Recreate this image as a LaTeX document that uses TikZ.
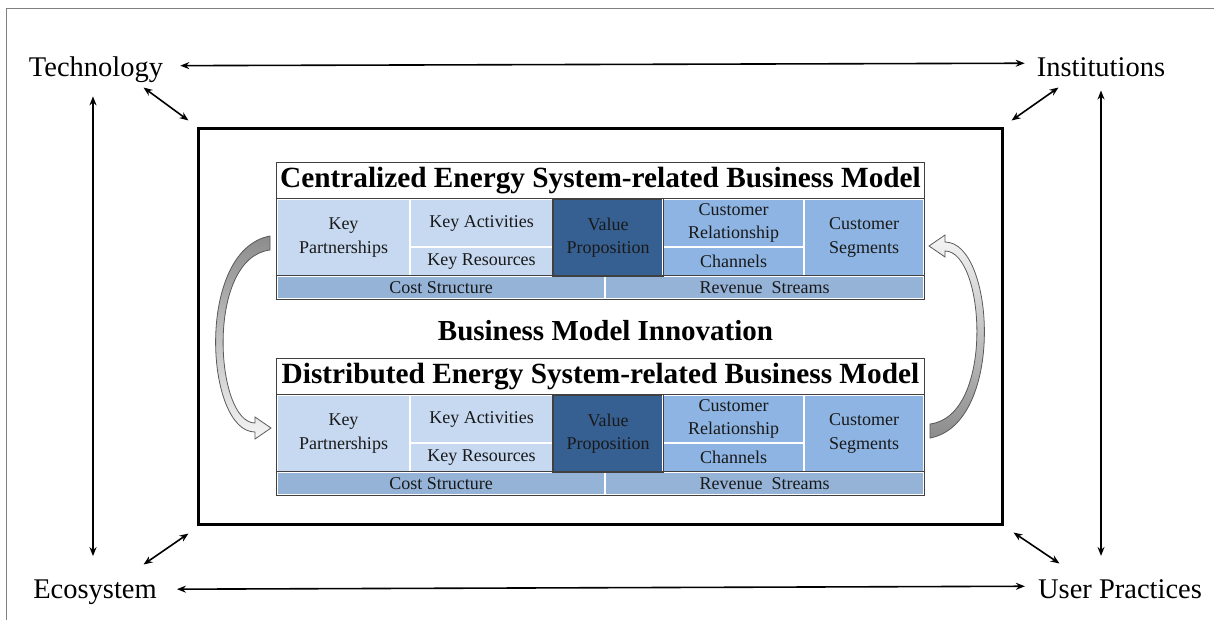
\documentclass[tikz,border=0pt]{standalone}
\usepackage{fontspec}
\setmainfont{Liberation Serif}
\usetikzlibrary{arrows.meta}
\definecolor{lightb}{HTML}{C6D9F1}
\definecolor{midb}{HTML}{8DB4E2}
\definecolor{darkb}{HTML}{376092}
\definecolor{costb}{HTML}{95B3D7}
\definecolor{edgec}{HTML}{404040}
\tikzset{
 lbl/.style={font=\fontsize{28.5}{30}\selectfont, inner sep=0pt, anchor=base},
 arr/.style={line width=1.6pt, {Stealth[length=9pt,width=7pt]}-{Stealth[length=9pt,width=7pt]}},
 cell/.style={draw=white, line width=1.2pt, inner sep=0pt, align=center, font=\fontsize{18}{23.5}\selectfont, text=black!90},
 ttl/.style={fill=white, inner sep=0pt, minimum width=647pt, minimum height=36pt, font=\fontsize{29.3}{30}\selectfont\bfseries},
 tedge/.style={draw=edgec, line width=1.3pt},
 frame/.style={draw=black, line width=3pt, minimum width=804pt, minimum height=396pt, inner sep=0pt},
 blockarrow/.style={draw=black!65, line width=0.8pt},
 bmi/.style={font=\fontsize{29}{30}\selectfont\bfseries, inner sep=0pt},
}
\newcommand\bmodel[3]{%
 \begin{scope}[yshift=-#2pt]
 \node[ttl] (#1-t) at (600.5,181) {#3};
 \node[cell, fill=lightb, minimum width=133pt, minimum height=77pt] (#1-kp) at (343.5,237.5) {Key\\Partnerships};
 \node[cell, fill=lightb, minimum width=143pt, minimum height=48pt] (#1-ka) at (481.5,223) {Key Activities};
 \node[cell, fill=lightb, minimum width=143pt, minimum height=29pt] (#1-kr) at (481.5,261.5) {Key Resources};
 \node[cell, fill=darkb, draw=edgec, minimum width=110pt, minimum height=77pt] (#1-vp) at (608,237.5) {Value\\Proposition};
 \node[cell, fill=midb, minimum width=141pt, minimum height=48pt] (#1-cr) at (733.5,223) {Customer\\Relationship};
 \node[cell, fill=midb, minimum width=141pt, minimum height=29pt] (#1-ch) at (733.5,261.5) {Channels};
 \node[cell, fill=midb, minimum width=120pt, minimum height=77pt] (#1-cs) at (864,237.5) {Customer\\Segments};
 \node[cell, fill=costb, minimum width=328pt, minimum height=23pt] (#1-cost) at (441,287.5) {Cost Structure};
 \node[cell, fill=costb, minimum width=319pt, minimum height=23pt] (#1-rev) at (764.5,287.5) {Revenue\ \ Streams};
 \draw[tedge] (#1-vp.north west) rectangle (#1-vp.south east);
 \draw[tedge] (#1-kp.north west) -- (#1-cs.north east);
 \draw[tedge] (#1-cost.north west) -- (#1-rev.north east);
 \draw[tedge] (#1-t.north west) rectangle (#1-rev.south east);
 \end{scope}}
\begin{document}
\begin{tikzpicture}[x=1pt,y=-1pt]
\useasboundingbox (0,0) rectangle (1214,619);
\draw[black!50, line width=1pt] (6,625) -- (6,8) -- (1220,8);

% factors
\node[lbl] (tech) at (96,76) {Technology};
\node[lbl] (inst) at (1101,76) {Institutions};
\node[lbl] (eco) at (95,598) {Ecosystem};
\node[lbl] (user) at (1120,598) {User Practices};

% central frame
\node[frame] (box) at (600,326) {};

% arrows between factors
\draw[arr, shorten <=17pt, shorten >=12pt] ([yshift=3.5pt]tech.east) -- ([yshift=3.5pt]inst.west);
\draw[arr, shorten <=20pt, shorten >=13pt] ([yshift=2.5pt]eco.east) -- ([yshift=2.5pt]user.west);
\draw[arr, shorten <=14pt, shorten >=23pt] ([xshift=-3pt]tech.south) -- ([xshift=-2pt]eco.north);
\draw[arr, shorten <=14pt, shorten >=23pt] (inst.south) -- ([xshift=-19pt]user.north);

% diagonal arrows to the frame
\draw[arr] ([shift={(-53,-39)}]box.north west) -- ([shift={(-8,-6)}]box.north west);
\draw[arr] ([shift={(55,-39)}]box.north east) -- ([shift={(8,-6)}]box.north east);
\draw[arr] ([shift={(-8,8)}]box.south west) -- ([shift={(-53,39)}]box.south west);
\draw[arr] ([shift={(10,7)}]box.south east) -- ([shift={(56,38)}]box.south east);

% business models
\bmodel{cen}{0}{Centralized Energy System-related Business Model}
\bmodel{dis}{196}{Distributed Energy System-related Business Model}

\node[bmi] (inn) at (605.5,331) {Business Model Innovation};

% curved block arrows
\draw[blockarrow, top color=black!45, bottom color=black!4]
 (270,236) .. controls (195,250) and (205,432) .. (255,432)
 -- (255,439) -- (271,428) -- (255,417) -- (255,423)
 .. controls (215,423) and (205,258) .. (270,250) -- cycle;
\draw[blockarrow, top color=black!4, bottom color=black!45]
 (930,438) .. controls (1005,424) and (995,242) .. (945,242)
 -- (945,235) -- (929,246) -- (945,257) -- (945,251)
 .. controls (985,251) and (995,416) .. (930,424) -- cycle;
\end{tikzpicture}
\end{document}
